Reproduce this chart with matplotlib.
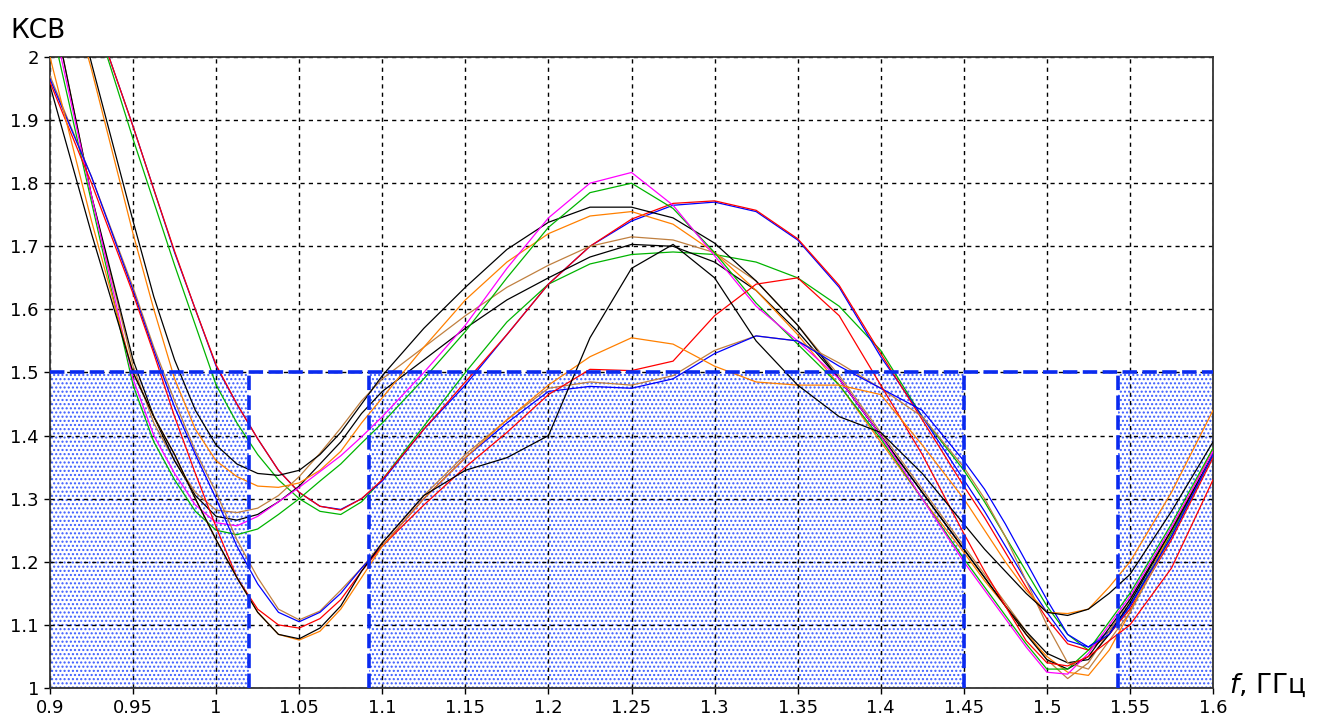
import matplotlib
matplotlib.use("Agg")
import matplotlib.pyplot as plt

# Frequency grid, GHz (denser around the dips)
freq = [0.900, 0.925, 0.950, 0.9625, 0.975, 0.9875, 1.000, 1.0125, 1.025, 1.0375,
        1.050, 1.0625, 1.075, 1.0875, 1.100, 1.125, 1.150, 1.175, 1.200, 1.225,
        1.250, 1.275, 1.300, 1.325, 1.350, 1.375, 1.400, 1.425, 1.450, 1.4625,
        1.475, 1.4875, 1.500, 1.5125, 1.525, 1.5375, 1.550, 1.575, 1.600]

# VSWR of the measured samples on the freq grid
vswr_magenta = [2.08, 1.78, 1.49, 1.40, 1.34, 1.29, 1.262, 1.257, 1.272, 1.295,
                1.318, 1.343, 1.368, 1.398, 1.43, 1.50, 1.575, 1.665, 1.745, 1.80,
                1.817, 1.765, 1.685, 1.605, 1.55, 1.49, 1.40, 1.30, 1.20, 1.155,
                1.11, 1.065, 1.025, 1.022, 1.055, 1.10, 1.145, 1.255, 1.375]
vswr_green_a = [2.06, 1.77, 1.48, 1.39, 1.33, 1.28, 1.25, 1.243, 1.252, 1.275,
                1.30, 1.328, 1.355, 1.388, 1.42, 1.49, 1.565, 1.65, 1.73, 1.785,
                1.80, 1.76, 1.69, 1.61, 1.545, 1.48, 1.395, 1.30, 1.205, 1.16,
                1.115, 1.07, 1.03, 1.03, 1.06, 1.105, 1.15, 1.26, 1.38]
vswr_black_a = [2.25, 1.99, 1.74, 1.62, 1.52, 1.44, 1.385, 1.355, 1.34, 1.337,
                1.345, 1.37, 1.405, 1.45, 1.495, 1.57, 1.635, 1.695, 1.738, 1.762,
                1.762, 1.745, 1.705, 1.645, 1.575, 1.49, 1.40, 1.31, 1.22, 1.175,
                1.13, 1.085, 1.045, 1.03, 1.05, 1.095, 1.14, 1.25, 1.37]
vswr_orange_a = [2.22, 1.98, 1.72, 1.60, 1.49, 1.41, 1.36, 1.335, 1.32, 1.318,
                 1.325, 1.345, 1.375, 1.42, 1.46, 1.54, 1.615, 1.675, 1.72, 1.748,
                 1.755, 1.735, 1.69, 1.63, 1.56, 1.48, 1.39, 1.30, 1.215, 1.17,
                 1.13, 1.085, 1.05, 1.025, 1.02, 1.06, 1.12, 1.25, 1.38]
vswr_brown_a = [2.10, 1.78, 1.51, 1.42, 1.36, 1.31, 1.282, 1.278, 1.285, 1.305,
                1.335, 1.372, 1.412, 1.455, 1.49, 1.54, 1.59, 1.635, 1.67, 1.70,
                1.715, 1.71, 1.69, 1.645, 1.575, 1.495, 1.405, 1.315, 1.225, 1.18,
                1.135, 1.09, 1.045, 1.015, 1.04, 1.09, 1.14, 1.25, 1.37]
vswr_black_b = [2.10, 1.78, 1.52, 1.43, 1.36, 1.305, 1.272, 1.266, 1.275, 1.295,
                1.32, 1.355, 1.39, 1.435, 1.47, 1.52, 1.57, 1.615, 1.65, 1.683,
                1.703, 1.70, 1.675, 1.63, 1.565, 1.49, 1.40, 1.31, 1.22, 1.175,
                1.13, 1.09, 1.055, 1.04, 1.045, 1.085, 1.135, 1.25, 1.37]
vswr_blue_b = [2.35, 2.08, 1.89, 1.79, 1.69, 1.60, 1.51, 1.45, 1.395, 1.345,
               1.31, 1.288, 1.283, 1.30, 1.328, 1.41, 1.48, 1.56, 1.64, 1.70,
               1.74, 1.765, 1.77, 1.755, 1.71, 1.635, 1.525, 1.43, 1.33, 1.28,
               1.225, 1.17, 1.12, 1.075, 1.065, 1.09, 1.13, 1.24, 1.37]
vswr_red_b = [2.35, 2.08, 1.89, 1.79, 1.692, 1.60, 1.512, 1.45, 1.395, 1.345,
              1.31, 1.288, 1.282, 1.30, 1.33, 1.41, 1.485, 1.56, 1.64, 1.70,
              1.743, 1.768, 1.772, 1.757, 1.712, 1.638, 1.53, 1.425, 1.32, 1.27,
              1.215, 1.16, 1.11, 1.07, 1.06, 1.085, 1.125, 1.235, 1.365]
vswr_green_b = [2.35, 2.08, 1.87, 1.77, 1.67, 1.575, 1.48, 1.42, 1.37, 1.33,
                1.30, 1.28, 1.275, 1.295, 1.33, 1.415, 1.50, 1.58, 1.64, 1.672,
                1.687, 1.691, 1.687, 1.675, 1.65, 1.605, 1.535, 1.43, 1.345, 1.295,
                1.24, 1.185, 1.13, 1.085, 1.06, 1.085, 1.13, 1.245, 1.37]
vswr_black_c = [1.955, 1.72, 1.50, 1.43, 1.37, 1.30, 1.235, 1.175, 1.12, 1.085,
                1.078, 1.095, 1.13, 1.185, 1.23, 1.305, 1.345, 1.365, 1.40, 1.555,
                1.665, 1.703, 1.65, 1.55, 1.48, 1.43, 1.405, 1.34, 1.26, 1.22,
                1.185, 1.15, 1.12, 1.115, 1.125, 1.15, 1.18, 1.28, 1.39]
vswr_orange_c = [2.00, 1.74, 1.50, 1.43, 1.37, 1.30, 1.235, 1.175, 1.12, 1.085,
                 1.076, 1.09, 1.125, 1.175, 1.225, 1.30, 1.365, 1.425, 1.48, 1.525,
                 1.555, 1.545, 1.51, 1.485, 1.48, 1.48, 1.465, 1.385, 1.30, 1.25,
                 1.20, 1.155, 1.12, 1.118, 1.125, 1.16, 1.20, 1.31, 1.44]
vswr_red_c = [1.96, 1.80, 1.625, 1.53, 1.43, 1.34, 1.255, 1.175, 1.125, 1.10,
              1.095, 1.11, 1.14, 1.185, 1.225, 1.29, 1.35, 1.405, 1.465, 1.505,
              1.503, 1.518, 1.59, 1.64, 1.65, 1.59, 1.48, 1.37, 1.245, 1.185,
              1.13, 1.075, 1.04, 1.035, 1.05, 1.075, 1.10, 1.19, 1.33]
vswr_blue_c = [1.965, 1.81, 1.63, 1.535, 1.445, 1.37, 1.30, 1.225, 1.165, 1.12,
               1.105, 1.12, 1.15, 1.19, 1.225, 1.30, 1.365, 1.42, 1.47, 1.478,
               1.475, 1.49, 1.53, 1.558, 1.55, 1.51, 1.475, 1.44, 1.36, 1.315,
               1.26, 1.20, 1.14, 1.085, 1.065, 1.085, 1.13, 1.24, 1.37]
vswr_brown_c = [1.97, 1.81, 1.635, 1.54, 1.455, 1.375, 1.31, 1.235, 1.175, 1.125,
                1.108, 1.122, 1.155, 1.19, 1.23, 1.305, 1.37, 1.425, 1.475, 1.485,
                1.48, 1.495, 1.535, 1.558, 1.55, 1.515, 1.475, 1.43, 1.35, 1.30,
                1.24, 1.17, 1.10, 1.04, 1.03, 1.075, 1.12, 1.24, 1.37]

curves = [
    (vswr_green_b, "#00b400"),
    (vswr_blue_b, "#0000ff"),
    (vswr_red_b, "#ff0000"),
    (vswr_brown_a, "#c08040"),
    (vswr_black_b, "#000000"),
    (vswr_orange_a, "#ff8000"),
    (vswr_black_a, "#000000"),
    (vswr_green_a, "#00b400"),
    (vswr_magenta, "#ff00ff"),
    (vswr_brown_c, "#c08040"),
    (vswr_blue_c, "#0000ff"),
    (vswr_red_c, "#ff0000"),
    (vswr_orange_c, "#ff8000"),
    (vswr_black_c, "#000000"),
]

# Pass bands and the VSWR limit
vswr_limit = 1.5
band_edges = [1.02, 1.092, 1.45, 1.543]
shaded_bands = [(0.9, 1.02), (1.092, 1.45), (1.543, 1.6)]

x_ticks = [0.9, 0.95, 1.0, 1.05, 1.1, 1.15, 1.2, 1.25, 1.3, 1.35, 1.4, 1.45, 1.5, 1.55, 1.6]
x_labels = ["0.9", "0.95", "1", "1.05", "1.1", "1.15", "1.2", "1.25", "1.3", "1.35",
            "1.4", "1.45", "1.5", "1.55", "1.6"]
y_ticks = [1.0, 1.1, 1.2, 1.3, 1.4, 1.5, 1.6, 1.7, 1.8, 1.9, 2.0]
y_labels = ["1", "1.1", "1.2", "1.3", "1.4", "1.5", "1.6", "1.7", "1.8", "1.9", "2"]

plt.rcParams["hatch.linewidth"] = 1.0

fig = plt.figure(figsize=(13.33, 7.24), dpi=100)
ax = fig.add_axes([0.0375, 0.0497, 0.8725, 0.8716])

# dotted fill under the limit
for lo, hi in shaded_bands:
    ax.fill_between([lo, hi], 1.0, vswr_limit, facecolor="white",
                    edgecolor="#3c5cff", hatch="....", linewidth=0, zorder=0.5)

ax.grid(True, color="black", linestyle=(0, (3, 3)), linewidth=1.0, zorder=1)
ax.set_axisbelow(True)

for values, color in curves:
    ax.plot(freq, values, color=color, linewidth=0.9, zorder=3)

# limit line and band edges
ax.plot([0.9, 1.6], [vswr_limit, vswr_limit], color="#0a2af0",
        linestyle=(0, (4, 1.5)), linewidth=2.6, zorder=4)
for edge in band_edges:
    ax.plot([edge, edge], [1.0, vswr_limit], color="#0a2af0",
            linestyle=(0, (4, 1.5)), linewidth=2.6, zorder=4)

ax.set_xlim(0.9, 1.6)
ax.set_ylim(1.0, 2.0)
ax.set_xticks(x_ticks)
ax.set_xticklabels(x_labels)
ax.set_yticks(y_ticks)
ax.set_yticklabels(y_labels)
ax.tick_params(axis="both", labelsize=13, length=4, width=1, direction="out",
               colors="black", pad=4)
for side in ax.spines.values():
    side.set_linewidth(1.3)
    side.set_color("#333333")

fig.text(0.008, 0.947, "КСВ", fontsize=19)
fig.text(0.922, 0.043, r"$f$, ГГц", fontsize=19)

fig.savefig("out.png", dpi=100)
